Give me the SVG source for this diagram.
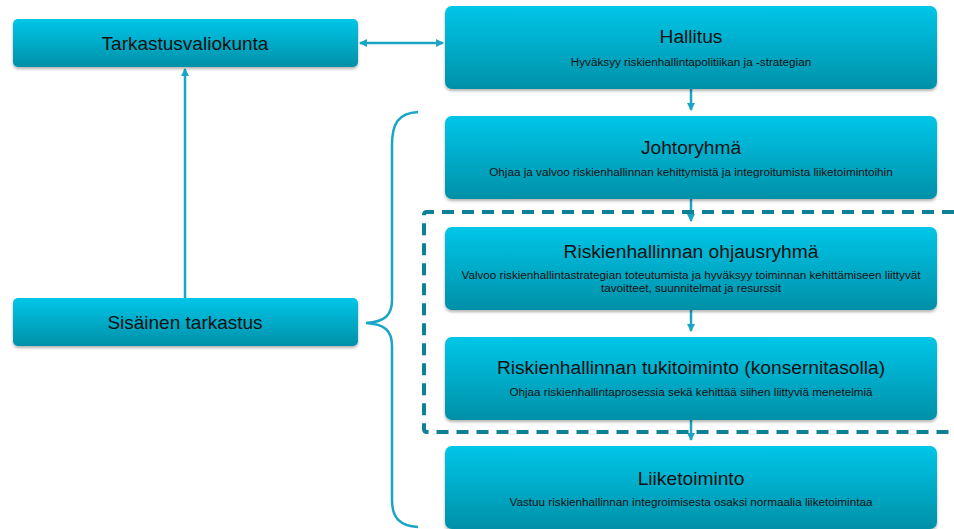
<svg xmlns="http://www.w3.org/2000/svg" width="954" height="529" viewBox="0 0 954 529">
<defs>
<linearGradient id="g" x1="0" y1="0" x2="0" y2="1">
<stop offset="0" stop-color="#00C6E8"/>
<stop offset="1" stop-color="#0090A8"/>
</linearGradient>
<filter id="sh" x="-5%" y="-10%" width="110%" height="130%">
<feDropShadow dx="0" dy="2" stdDeviation="1.5" flood-color="#000" flood-opacity="0.3"/>
</filter>
<marker id="ah" markerWidth="8" markerHeight="8" refX="7" refY="4" orient="auto-start-reverse" markerUnits="userSpaceOnUse">
<path d="M0,0 L8,4 L0,8 Z" fill="#1AA5C5"/>
</marker>
</defs>
<style>
.box{fill:url(#g);filter:url(#sh)}
.t{font-family:"Liberation Sans",Arial,sans-serif;fill:#111;text-anchor:middle}
.ti{font-size:19.2px}
.st{font-size:11.7px}
.con{stroke:#1AA5C5;stroke-width:2.5;fill:none}
</style>
<rect width="954" height="529" fill="#fff"/>
<g id="connectors">
<line class="con" x1="360" y1="43" x2="443" y2="43" marker-start="url(#ah)" marker-end="url(#ah)"/>
<line class="con" x1="185" y1="298" x2="185" y2="69" marker-end="url(#ah)"/>
<line class="con" x1="691" y1="89" x2="691" y2="110" marker-end="url(#ah)"/>
<line class="con" x1="691" y1="199" x2="691" y2="221" marker-end="url(#ah)"/>
<line class="con" x1="691" y1="309" x2="691" y2="331" marker-end="url(#ah)"/>
<line class="con" x1="691" y1="419" x2="691" y2="440" marker-end="url(#ah)"/>
<path class="con" d="M418,112 C398,113 392,124 392,145 L392,300 C392,315 385,322 366,323 C385,324 392,331 392,346 L392,500 C392,518 400,526 418,527"/>
</g>
<g id="group-frame">
<path d="M954,212 L427,212 Q424,212 424,215 L424,429 Q424,432 427,432 L954,432" fill="none" stroke="#0E8196" stroke-width="4" stroke-dasharray="12,8"/>
</g>
<g id="tarkastusvaliokunta">
<rect class="box" x="13" y="19" width="345" height="48" rx="5"/>
<text class="t" x="185" y="50" font-size="19">Tarkastusvaliokunta</text>
</g>
<g id="sisainen-tarkastus">
<rect class="box" x="13" y="298" width="345" height="48" rx="5"/>
<text class="t" x="185" y="329" font-size="19">Sisäinen tarkastus</text>
</g>
<g id="hallitus">
<rect class="box" x="445" y="6" width="492" height="83" rx="7"/>
<text class="t ti" x="691" y="43">Hallitus</text>
<text class="t st" x="691" y="66">Hyväksyy riskienhallintapolitiikan ja -strategian</text>
</g>
<g id="johtoryhma">
<rect class="box" x="445" y="116" width="492" height="83" rx="7"/>
<text class="t ti" x="691" y="154">Johtoryhmä</text>
<text class="t st" x="691" y="176">Ohjaa ja valvoo riskienhallinnan kehittymistä ja integroitumista liiketoimintoihin</text>
</g>
<g id="ohjausryhma">
<rect class="box" x="445" y="227" width="492" height="83" rx="7"/>
<text class="t ti" x="691" y="258">Riskienhallinnan ohjausryhmä</text>
<text class="t st" x="691" y="279">Valvoo riskienhallintastrategian toteutumista ja hyväksyy toiminnan kehittämiseen liittyvät</text>
<text class="t st" x="691" y="292">tavoitteet, suunnitelmat ja resurssit</text>
</g>
<g id="tukitoiminto">
<rect class="box" x="445" y="337" width="492" height="83" rx="7"/>
<text class="t ti" x="691" y="374">Riskienhallinnan tukitoiminto (konsernitasolla)</text>
<text class="t st" x="691" y="396">Ohjaa riskienhallintaprosessia sekä kehittää siihen liittyviä menetelmiä</text>
</g>
<g id="liiketoiminto">
<rect class="box" x="445" y="446" width="492" height="83" rx="7"/>
<text class="t ti" x="691" y="485">Liiketoiminto</text>
<text class="t st" x="691" y="506">Vastuu riskienhallinnan integroimisesta osaksi normaalia liiketoimintaa</text>
</g>
</svg>
